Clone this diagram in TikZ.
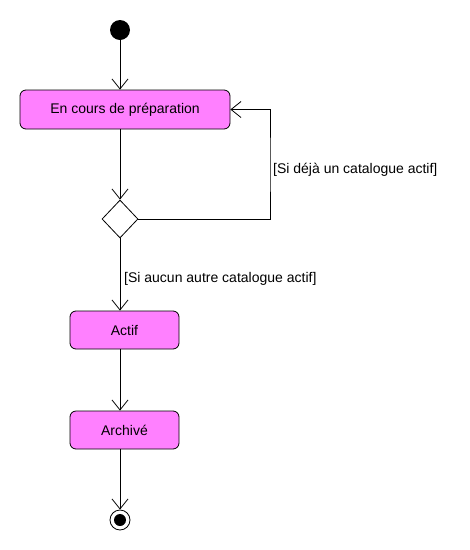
\documentclass[tikz,border=0pt]{standalone}
\usepackage{fontspec}
\setmainfont{Liberation Sans}
\usetikzlibrary{arrows.meta,shapes.geometric}
\definecolor{boxpink}{HTML}{FF80FF}
\begin{document}
\begin{tikzpicture}[x=1pt,y=-1pt,
  statebox/.style={draw=black,line width=0.8pt,fill=boxpink,rounded corners=6pt,inner sep=0pt,font=\fontsize{14}{16}\selectfont},
  flow/.style={draw=black,line width=0.8pt,-{Straight Barb[length=10pt,width=16pt,line width=0.8pt]}},
  lbl/.style={font=\fontsize{14}{16}\selectfont,inner sep=0pt}]
\useasboundingbox (0,0) rectangle (470,550);
\node[circle,fill=black,minimum size=20pt,inner sep=0pt] (i) at (120,30) {};
\node[statebox,minimum width=210pt,minimum height=39pt] (p1) at (125,109.5) {En cours de préparation};
\node[diamond,draw=black,line width=0.8pt,fill=white,minimum width=36pt,minimum height=38pt,inner sep=0pt] (d) at (120,219) {};
\node[statebox,minimum width=109pt,minimum height=38pt] (a) at (124.5,330) {Actif};
\node[statebox,minimum width=109pt,minimum height=38pt] (r) at (124.5,430) {Archivé};
\node[circle,draw=black,line width=0.8pt,fill=white,minimum size=20pt,inner sep=0pt] (f) at (120,520) {};
\node[circle,fill=black,minimum size=12pt,inner sep=0pt] at (f.center) {};
\coordinate (lc) at (270,165);
\draw[flow] (i) -- (p1.north -| i);
\draw[flow] (p1.south -| i) -- (d.north);
\draw[flow] (d.east) -| (lc) |- (p1.east);
\draw[flow] (d.south) -- (a.north -| d);
\draw[flow] (a.south -| d) -- (r.north -| d);
\draw[flow] (r.south -| d) -- (f.north);
\node[lbl,anchor=west] (l1) at (273,170) {[Si déjà un catalogue actif]};
\node[lbl,anchor=west] (l2) at (124,279) {[Si aucun autre catalogue actif]};
\end{tikzpicture}
\end{document}
